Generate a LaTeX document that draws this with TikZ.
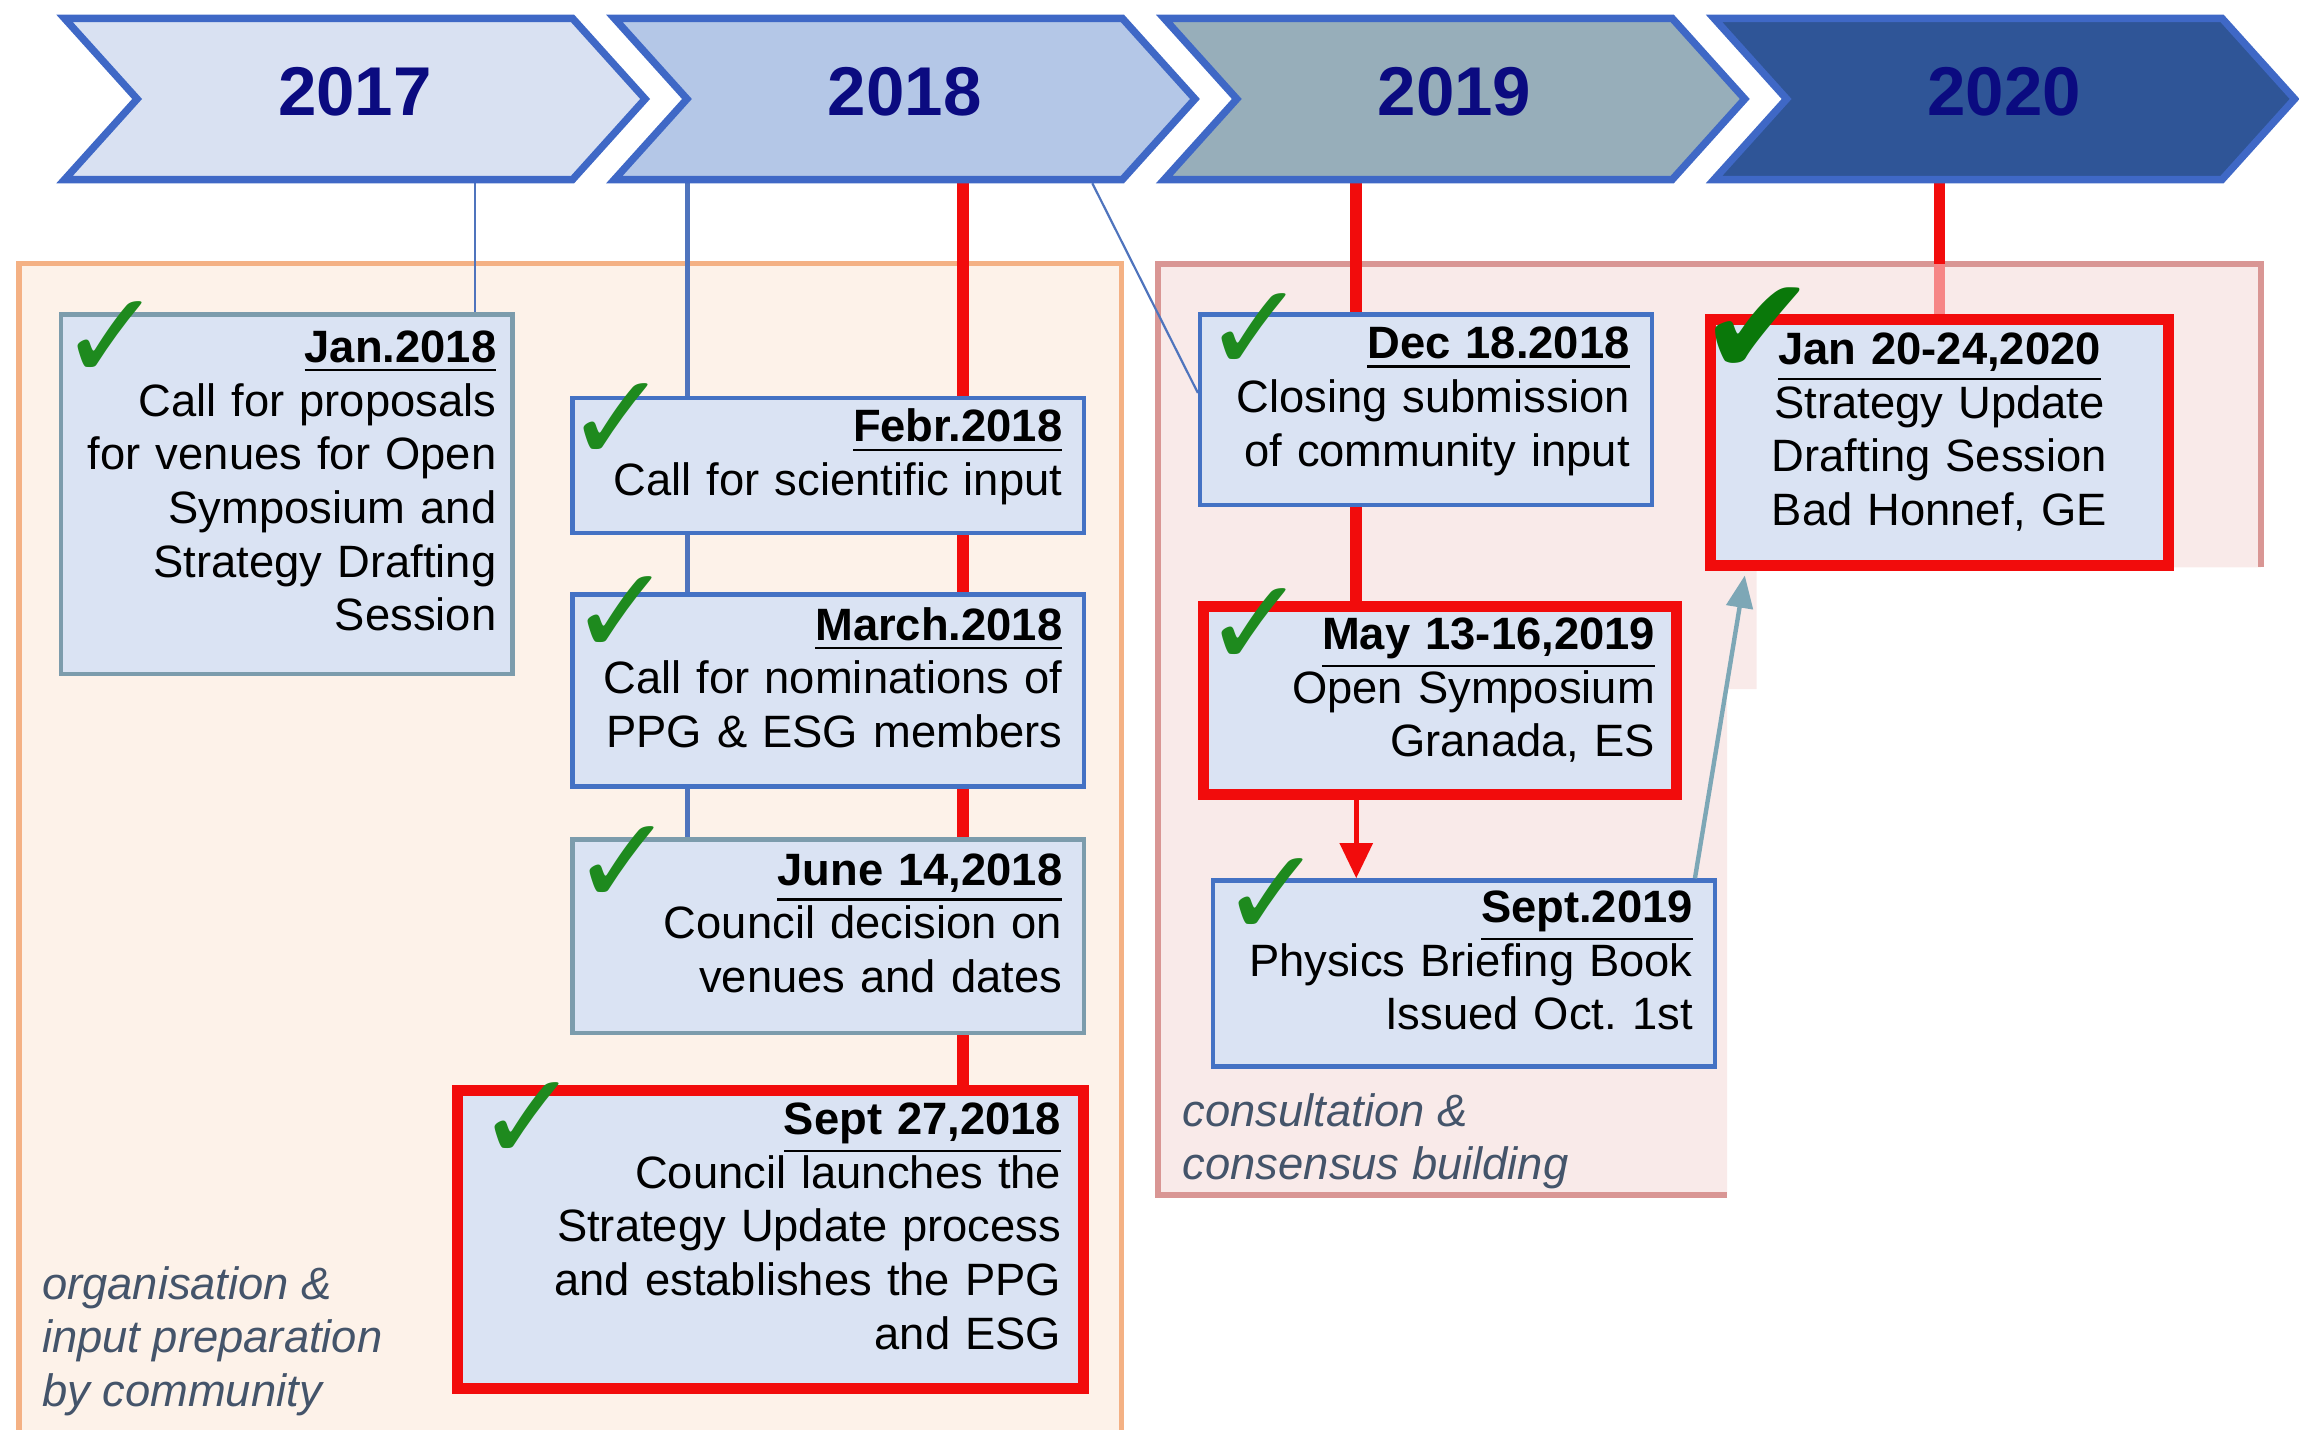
\documentclass[tikz,border=0pt]{standalone}
\usepackage{fontspec}
\setmainfont{Liberation Sans}
\newfontfamily\tickfont{DejaVu Sans}
\usetikzlibrary{shapes, arrows.meta, calc}
\pgfdeclarelayer{back}
\pgfdeclarelayer{mid}
\pgfsetlayers{back,mid,main}
\definecolor{yrfirst}{HTML}{D9E1F2}
\definecolor{yrsecond}{HTML}{B4C7E7}
\definecolor{yrthird}{HTML}{97AEBA}
\definecolor{yrfourth}{HTML}{2F5597}
\definecolor{chevedge}{HTML}{3F68C6}
\definecolor{yeartext}{HTML}{0B0B80}
\definecolor{eventfill}{HTML}{DAE3F3}
\definecolor{blueedge}{HTML}{4472C4}
\definecolor{tealedge}{HTML}{7C9CAC}
\definecolor{rededge}{HTML}{F20C0C}
\definecolor{tickgreen}{HTML}{1E8A1E}
\definecolor{darktick}{HTML}{0A780A}
\definecolor{orgfill}{HTML}{FDF2E9}
\definecolor{orgedge}{HTML}{F4B184}
\definecolor{consfill}{HTML}{F9EAE9}
\definecolor{consedge}{HTML}{D99694}
\definecolor{phasetext}{HTML}{44546A}
\definecolor{linkblue}{HTML}{4F74BD}
\definecolor{linkteal}{HTML}{7DA7B6}
\tikzstyle{yearbox}=[draw=chevedge, line width=0.5mm, shape=signal, signal from=west, signal to=east, signal pointer angle=96, minimum width=3.96cm, minimum height=1.10cm, text depth=1mm, text=yeartext, font=\fontsize{13.4}{16}\selectfont\bfseries]
\tikzstyle{eventbox}=[draw, fill=eventfill, rectangle, anchor=north west, inner xsep=1.5mm, inner ysep=0.5mm, align=right, font=\fontsize{8.8}{10.4}\selectfont, execute at end node={\rule[-1.8mm]{0pt}{0pt}}]
\tikzstyle{blueevent}=[eventbox, draw=blueedge, line width=0.3mm]
\tikzstyle{tealevent}=[eventbox, draw=tealedge, line width=0.3mm]
\tikzstyle{redevent}=[eventbox, draw=rededge, line width=0.75mm]
\tikzstyle{tickmark}=[text=tickgreen, inner sep=0pt, font=\tickfont\fontsize{24}{24}\selectfont]
\tikzstyle{phasenote}=[text=phasetext, anchor=north west, inner sep=0pt, align=left, font=\fontsize{8.8}{10.4}\selectfont\itshape]
\tikzstyle{thinlink}=[draw=linkblue, line width=0.3mm]
\tikzstyle{redlink}=[draw=rededge, line width=0.8mm]
\tikzstyle{redarrow}=[draw=rededge, line width=0.35mm, -{Triangle[width=2.2mm,length=2.4mm]}]
\tikzstyle{tealarrow}=[draw=linkteal, line width=0.3mm, -{Triangle[width=1.8mm,length=2.2mm]}]
\newcommand{\when}[1]{\underline{\textbf{#1}}}

\begin{document}
\begin{tikzpicture}[x=1cm, y=-1cm]
  \useasboundingbox (0,0) rectangle (15.68,9.75);
  \foreach \yr/\shade [count=\i from 0] in {2017/yrfirst, 2018/yrsecond, 2019/yrthird, 2020/yrfourth}
    \node[yearbox, fill=\shade] (y\yr) at (2.42+3.75*\i, 0.675) {\yr};

  \node[tealevent, inner xsep=1.1mm, text width=2.86cm, minimum height=2.45cm] (jan18) at (0.40,2.13)
    {\when{Jan.2018}\\Call for proposals\\for venues for Open\\Symposium and\\Strategy Drafting\\Session};
  \node[blueevent, text width=3.19cm, minimum height=0.92cm] (feb18) at (3.89,2.70)
    {\when{Febr.2018}\\Call for scientific input};
  \node[blueevent, text width=3.19cm, minimum height=1.31cm] (mar18) at (3.89,4.04)
    {\when{March.2018}\\Call for nominations of\\PPG \& ESG members};
  \node[tealevent, text width=3.19cm, minimum height=1.32cm] (jun18) at (3.89,5.71)
    {\when{June 14,2018}\\Council decision on\\venues and dates};
  \node[redevent, text width=3.97cm, minimum height=2.03cm] (sep18) at (3.08,7.40)
    {\when{Sept 27,2018}\\Council launches the\\Strategy Update process\\and establishes the PPG\\and ESG};
  \node[blueevent, text width=2.78cm, minimum height=1.30cm] (dec18) at (8.17,2.13)
    {\when{Dec 18.2018}\\Closing submission\\of community input};
  \node[redevent, text width=2.93cm, minimum height=1.28cm] (may19) at (8.17,4.10)
    {\when{May 13-16,2019}\\Open Symposium\\Granada, ES};
  \node[blueevent, text width=3.12cm, minimum height=1.27cm] (sep19) at (8.26,5.99)
    {\when{Sept.2019}\\Physics Briefing Book\\Issued Oct.\ 1st};
  \node[redevent, align=center, text width=2.82cm, minimum height=1.68cm] (jan20) at (11.63,2.14)
    {\when{Jan 20-24,2020}\\Strategy Update\\Drafting Session\\Bad Honnef, GE};

  \foreach \b/\dx/\dy in {jan18/0.36/0.19, feb18/0.32/0.18, mar18/0.35/0.16, jun18/0.36/0.19, sep18/0.52/0.25, dec18/0.39/0.14, may19/0.39/0.18, sep19/0.42/0.13}
    \node[tickmark] (\b-tick) at ($(\b.north west)+(\dx,\dy)$) {✓};
  \node[tickmark, text=darktick, font=\tickfont\fontsize{27}{27}\selectfont] (jan20-tick) at ($(jan20.north west)+(0.36,0.12)$) {✔};

  \node[phasenote] (orgnote) at (0.28,8.63) {organisation \&\\input preparation\\by community};
  \node[phasenote] (consnote) at (8.06,7.45) {consultation \&\\consensus building};

  \begin{pgfonlayer}{back}
    \filldraw[fill=orgfill, draw=orgedge, line width=0.35mm] (0.13,1.80) rectangle (7.65,10.2);
    \fill[consfill] (7.90,1.80) -- (15.42,1.80) -- (15.42,3.87) -- (11.98,3.87) -- (11.98,4.70) -- (11.78,4.70) -- (11.78,8.15) -- (7.90,8.15) -- cycle;
    \draw[consedge, line width=0.4mm] (11.78,8.15) -- (7.90,8.15) -- (7.90,1.80) -- (15.42,1.80) -- (15.42,3.87);
  \end{pgfonlayer}

  \coordinate (constop) at (7.90,1.80);
  \coordinate (c17) at ($(jan18.north east)+(-0.27,0)$);
  \coordinate (c18) at ($(feb18.north west)+(0.80,0)$);
  \coordinate (r18) at ($(feb18.north west)+(2.68,0)$);
  \coordinate (r19) at ($(dec18.north west)+(1.08,0)$);
  \coordinate (d18) at ($(y2018.south)+(1.28,0)$);
  \coordinate (d19) at ($(dec18.north west)+(0,0.55)$);
  \coordinate (s19) at ($(sep19.north east)+(-0.15,0)$);
  \coordinate (j20) at ($(jan20.south west)+(0.27,0.03)$);
  \begin{pgfonlayer}{mid}
    \draw[thinlink, line width=0.15mm] (c17 |- y2017.south) -- (c17);
    \draw[thinlink] (c18 |- y2018.south) -- (c18 |- jun18.north);
    \draw[redlink] (r18 |- y2018.south) -- (r18 |- sep18.north);
    \draw[thinlink, line width=0.15mm] (d18) -- (d19);
    \draw[redlink] (r19 |- y2019.south) -- (r19 |- may19.north);
    \draw[redlink] (y2020.south -| jan20.north) -- (jan20.north);
    \draw[redlink, draw=rededge!45!consfill] (jan20.north |- constop) -- (jan20.north);
  \end{pgfonlayer}
  \draw[redarrow] (r19 |- may19.south) -- (r19 |- sep19.north);
  \draw[tealarrow] (s19) -- (j20);
\end{tikzpicture}
\end{document}
